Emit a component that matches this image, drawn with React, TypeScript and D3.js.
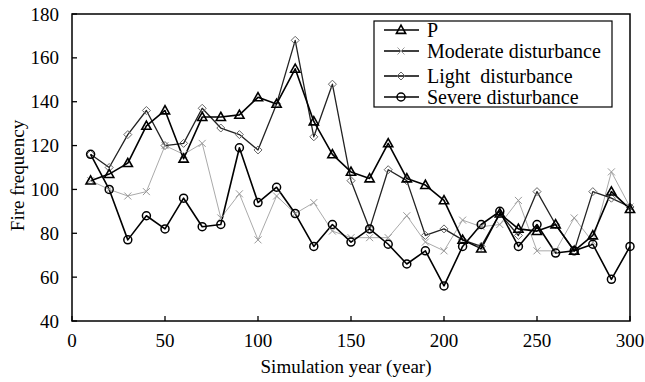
import React from 'react';
import * as d3 from 'd3';

const years = [10, 20, 30, 40, 50, 60, 70, 80, 90, 100, 110, 120, 130, 140, 150, 160, 170, 180, 190, 200, 210, 220, 230, 240, 250, 260, 270, 280, 290, 300];
const pValues = [104, 107, 112, 129, 136, 114, 133, 133, 134, 142, 139, 155, 131, 116, 108, 105, 121, 105, 102, 95, 77, 73, 89, 82, 81, 84, 72, 79, 99, 91];
const moderateValues = [104, 100, 97, 99, 120, 116, 121, 87, 98, 77, 97, 89, 94, 81, 78, 78, 78, 88, 76, 72, 86, 83, 84, 95, 72, 72, 87, 76, 108, 92];
const lightValues = [116, 110, 125, 136, 120, 121, 137, 128, 125, 118, 139, 168, 124, 148, 104, 82, 109, 104, 79, 82, 77, 74, 89, 79, 99, 84, 72, 99, 96, 92];
const severeValues = [116, 100, 77, 88, 82, 96, 83, 84, 119, 94, 101, 89, 74, 84, 76, 82, 75, 66, 72, 56, 74, 84, 90, 74, 84, 71, 72, 75, 59, 74];
const seriesNames = ['P', 'Moderate disturbance', 'Light  disturbance', 'Severe disturbance'];
const xTicks = [0, 50, 100, 150, 200, 250, 300];
const yTicks = [40, 60, 80, 100, 120, 140, 160, 180];

const FONT = '"Liberation Serif", "Times New Roman", serif';

type MarkerType = 'triangle' | 'cross' | 'diamond' | 'circle';

function Marker({ type, cx, cy }: { type: MarkerType; cx: number; cy: number }) {
  if (type === 'triangle') {
    return <path d={`M${cx},${cy - 4.8}L${cx + 4.6},${cy + 3.4}L${cx - 4.6},${cy + 3.4}Z`} fill="none" stroke="#000" strokeWidth={1.6} />;
  }
  if (type === 'circle') {
    return <circle cx={cx} cy={cy} r={4} fill="none" stroke="#000" strokeWidth={1.5} />;
  }
  if (type === 'diamond') {
    return <path d={`M${cx},${cy - 4}L${cx + 4},${cy}L${cx},${cy + 4}L${cx - 4},${cy}Z`} fill="none" stroke="#666" strokeWidth={1} />;
  }
  return (
    <g stroke="#999" strokeWidth={1}>
      <line x1={cx - 3.5} y1={cy - 3.5} x2={cx + 3.5} y2={cy + 3.5} />
      <line x1={cx - 3.5} y1={cy + 3.5} x2={cx + 3.5} y2={cy - 3.5} />
    </g>
  );
}

export default function App() {
  const W = 645;
  const H = 382;
  const left = 72, right = 630, top = 14, bottom = 321;
  const x = d3.scaleLinear().domain([0, 300]).range([left, right]);
  const y = d3.scaleLinear().domain([40, 180]).range([bottom, top]);
  const lineGen = d3.line<number>().x((_, i) => x(years[i])).y((d) => y(d));

  const series: { name: string; values: number[]; marker: MarkerType; stroke: string; width: number }[] = [
    { name: seriesNames[0], values: pValues, marker: 'triangle', stroke: '#000', width: 1.6 },
    { name: seriesNames[1], values: moderateValues, marker: 'cross', stroke: '#aaa', width: 1 },
    { name: seriesNames[2], values: lightValues, marker: 'diamond', stroke: '#222', width: 1.3 },
    { name: seriesNames[3], values: severeValues, marker: 'circle', stroke: '#000', width: 1.6 },
  ];
  const drawOrder = [1, 2, 0, 3];
  const legendY = [30, 51, 76, 97];

  return (
    <svg width={W} height={H} style={{ position: 'absolute', left: 0, top: 0, background: '#fff' }} fontFamily={FONT}>
      <rect x={0} y={0} width={W} height={H} fill="#fff" />
      {drawOrder.map((si) => {
        const s = series[si];
        return <path key={'l' + si} d={lineGen(s.values) || ''} fill="none" stroke={s.stroke} strokeWidth={s.width} strokeLinejoin="round" />;
      })}
      {drawOrder.map((si) => {
        const s = series[si];
        return (
          <g key={'m' + si}>
            {s.values.map((v, i) => (
              <Marker key={i} type={s.marker} cx={x(years[i])} cy={y(v)} />
            ))}
          </g>
        );
      })}
      <rect x={left} y={top} width={right - left} height={bottom - top} fill="none" stroke="#000" strokeWidth={1.5} />
      {xTicks.map((t) => (
        <g key={'xt' + t}>
          <line x1={x(t)} x2={x(t)} y1={bottom} y2={bottom - 5} stroke="#000" strokeWidth={1.3} />
          <text x={x(t)} y={347} textAnchor="middle" fontSize={19} fill="#000">{t}</text>
        </g>
      ))}
      {yTicks.map((t) => (
        <g key={'yt' + t}>
          <line x1={left} x2={left + 5} y1={y(t)} y2={y(t)} stroke="#000" strokeWidth={1.3} />
          <text x={59} y={y(t) + 6.5} textAnchor="end" fontSize={19} fill="#000">{t}</text>
        </g>
      ))}
      <text x={346} y={373} textAnchor="middle" fontSize={19} fill="#000">Simulation year (year)</text>
      <text transform={`translate(24,${(top + bottom) / 2 + 8}) rotate(-90)`} textAnchor="middle" fontSize={19} fill="#000">Fire frequency</text>
      <rect x={374} y={21} width={238} height={86} fill="#fff" stroke="#000" strokeWidth={1.2} />
      {series.map((s, i) => (
        <g key={'lg' + i}>
          <line x1={384} x2={419} y1={legendY[i]} y2={legendY[i]} stroke="#000" strokeWidth={1.5} />
          <Marker type={s.marker} cx={401} cy={legendY[i]} />
          <text x={427} y={legendY[i] + 6.5} fontSize={20} fill="#000" style={{ whiteSpace: 'pre' }}>{s.name}</text>
        </g>
      ))}
    </svg>
  );
}
